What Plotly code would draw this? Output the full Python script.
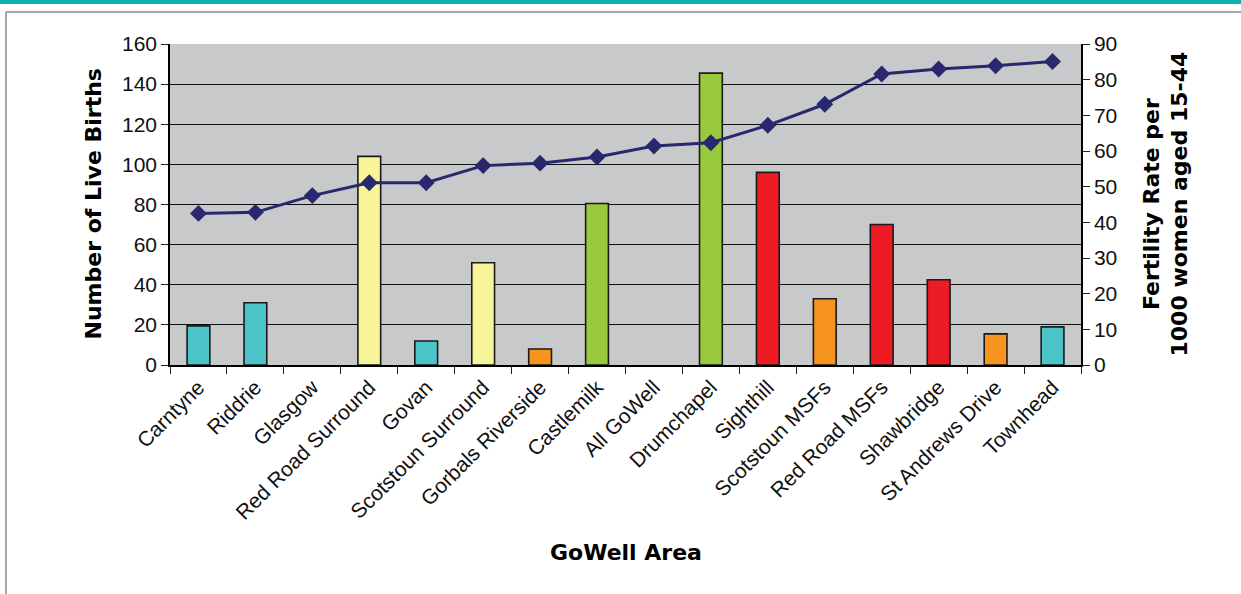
import plotly.graph_objects as go

areas = ["Carntyne", "Riddrie", "Glasgow", "Red Road Surround", "Govan",
         "Scotstoun Surround", "Gorbals Riverside", "Castlemilk", "All GoWell",
         "Drumchapel", "Sighthill", "Scotstoun MSFs", "Red Road MSFs",
         "Shawbridge", "St Andrews Drive", "Townhead"]
live_births = [19.5, 31, None, 104, 12, 51, 8, 80.5, None, 145.5, 96, 33, 70, 42.5, 15.5, 19]
fertility_rate = [42.5, 42.8, 47.5, 51.1, 51.1, 55.9, 56.6, 58.3, 61.4, 62.3,
                  67.2, 73.1, 81.6, 83.0, 83.9, 85.1]
bar_group = ["teal", "teal", "none", "yellow", "teal", "yellow", "orange", "green",
             "none", "green", "red", "orange", "red", "red", "orange", "teal"]

palette = {"teal": "#4BC4C8", "yellow": "#F7F49A", "orange": "#F7941D",
           "green": "#99C93C", "red": "#ED1C24", "none": "rgba(0,0,0,0)"}
bar_colors = [palette[g] for g in bar_group]

fig = go.Figure()
fig.add_trace(go.Bar(
    x=areas, y=live_births, width=0.4,
    marker=dict(color=bar_colors, line=dict(color="#1a1a1a", width=1.6)),
    yaxis="y", showlegend=False, hoverinfo="x+y"))
fig.add_trace(go.Scatter(
    x=areas, y=fertility_rate, mode="lines+markers", yaxis="y2",
    line=dict(color="#28286E", width=3),
    marker=dict(symbol="diamond", size=13, color="#28286E"),
    showlegend=False))

tickfont = dict(family="Liberation Sans, Arial, sans-serif", size=21, color="#111")
titlefont = dict(family="DejaVu Sans, sans-serif", size=22, color="#000", weight="bold")

L, R, T, B = 170, 1081, 44, 365
W, H = 1241, 594

fig.update_layout(
    width=W, height=H,
    margin=dict(l=L, r=W - R, t=T, b=H - B),
    paper_bgcolor="white", plot_bgcolor="#C8C9CB",
    xaxis=dict(type="category", tickangle=-45, tickfont=tickfont,
               showline=True, linecolor="#000", linewidth=1.5,
               ticks="outside", tickson="boundaries", ticklen=7, tickcolor="#222",
               showgrid=False, range=[-0.5, 15.5]),
    yaxis=dict(range=[0, 160], dtick=20, tickfont=tickfont,
               showline=True, linecolor="#000", linewidth=1.5,
               ticks="outside", ticklen=7, tickcolor="#222",
               showgrid=True, gridcolor="#111", gridwidth=1, zeroline=False),
    yaxis2=dict(range=[0, 90], dtick=10, tickfont=tickfont, overlaying="y",
                side="right", showline=True, linecolor="#000", linewidth=1.5,
                ticks="outside", ticklen=7, tickcolor="#222",
                showgrid=False, zeroline=False),
)

pw = R - L
ph = B - T
def px_x(x):
    return (x - L) / pw
def px_y(y):
    return (B - y) / ph

fig.update_layout(
    annotations=[
        dict(text="Number of Live Births", xref="paper", yref="paper",
             x=px_x(93), y=0.5, xanchor="center", yanchor="middle",
             textangle=-90, showarrow=False, font=titlefont),
        dict(text="Fertility Rate per<br>1000 women aged 15-44", xref="paper", yref="paper",
             x=px_x(1165), y=0.5, xanchor="center", yanchor="middle",
             textangle=-90, showarrow=False, font=titlefont),
        dict(text="GoWell Area", xref="paper", yref="paper",
             x=0.5, y=px_y(552), xanchor="center", yanchor="middle",
             showarrow=False, font=titlefont),
    ],
    shapes=[
        dict(type="rect", xref="paper", yref="paper", x0=px_x(0), x1=px_x(W),
             y0=px_y(4), y1=px_y(0), fillcolor="#0AB3AC", line=dict(width=0)),
        dict(type="line", xref="paper", yref="paper", x0=px_x(6), x1=px_x(W),
             y0=px_y(12), y1=px_y(12), line=dict(color="#8a8a8a", width=1.5)),
        dict(type="line", xref="paper", yref="paper", x0=px_x(6), x1=px_x(6),
             y0=px_y(12), y1=px_y(H), line=dict(color="#8a8a8a", width=1.5)),
    ],
)

fig.write_html("out.html", config={"displayModeBar": False},
               post_script="document.body.style.margin='0';")
